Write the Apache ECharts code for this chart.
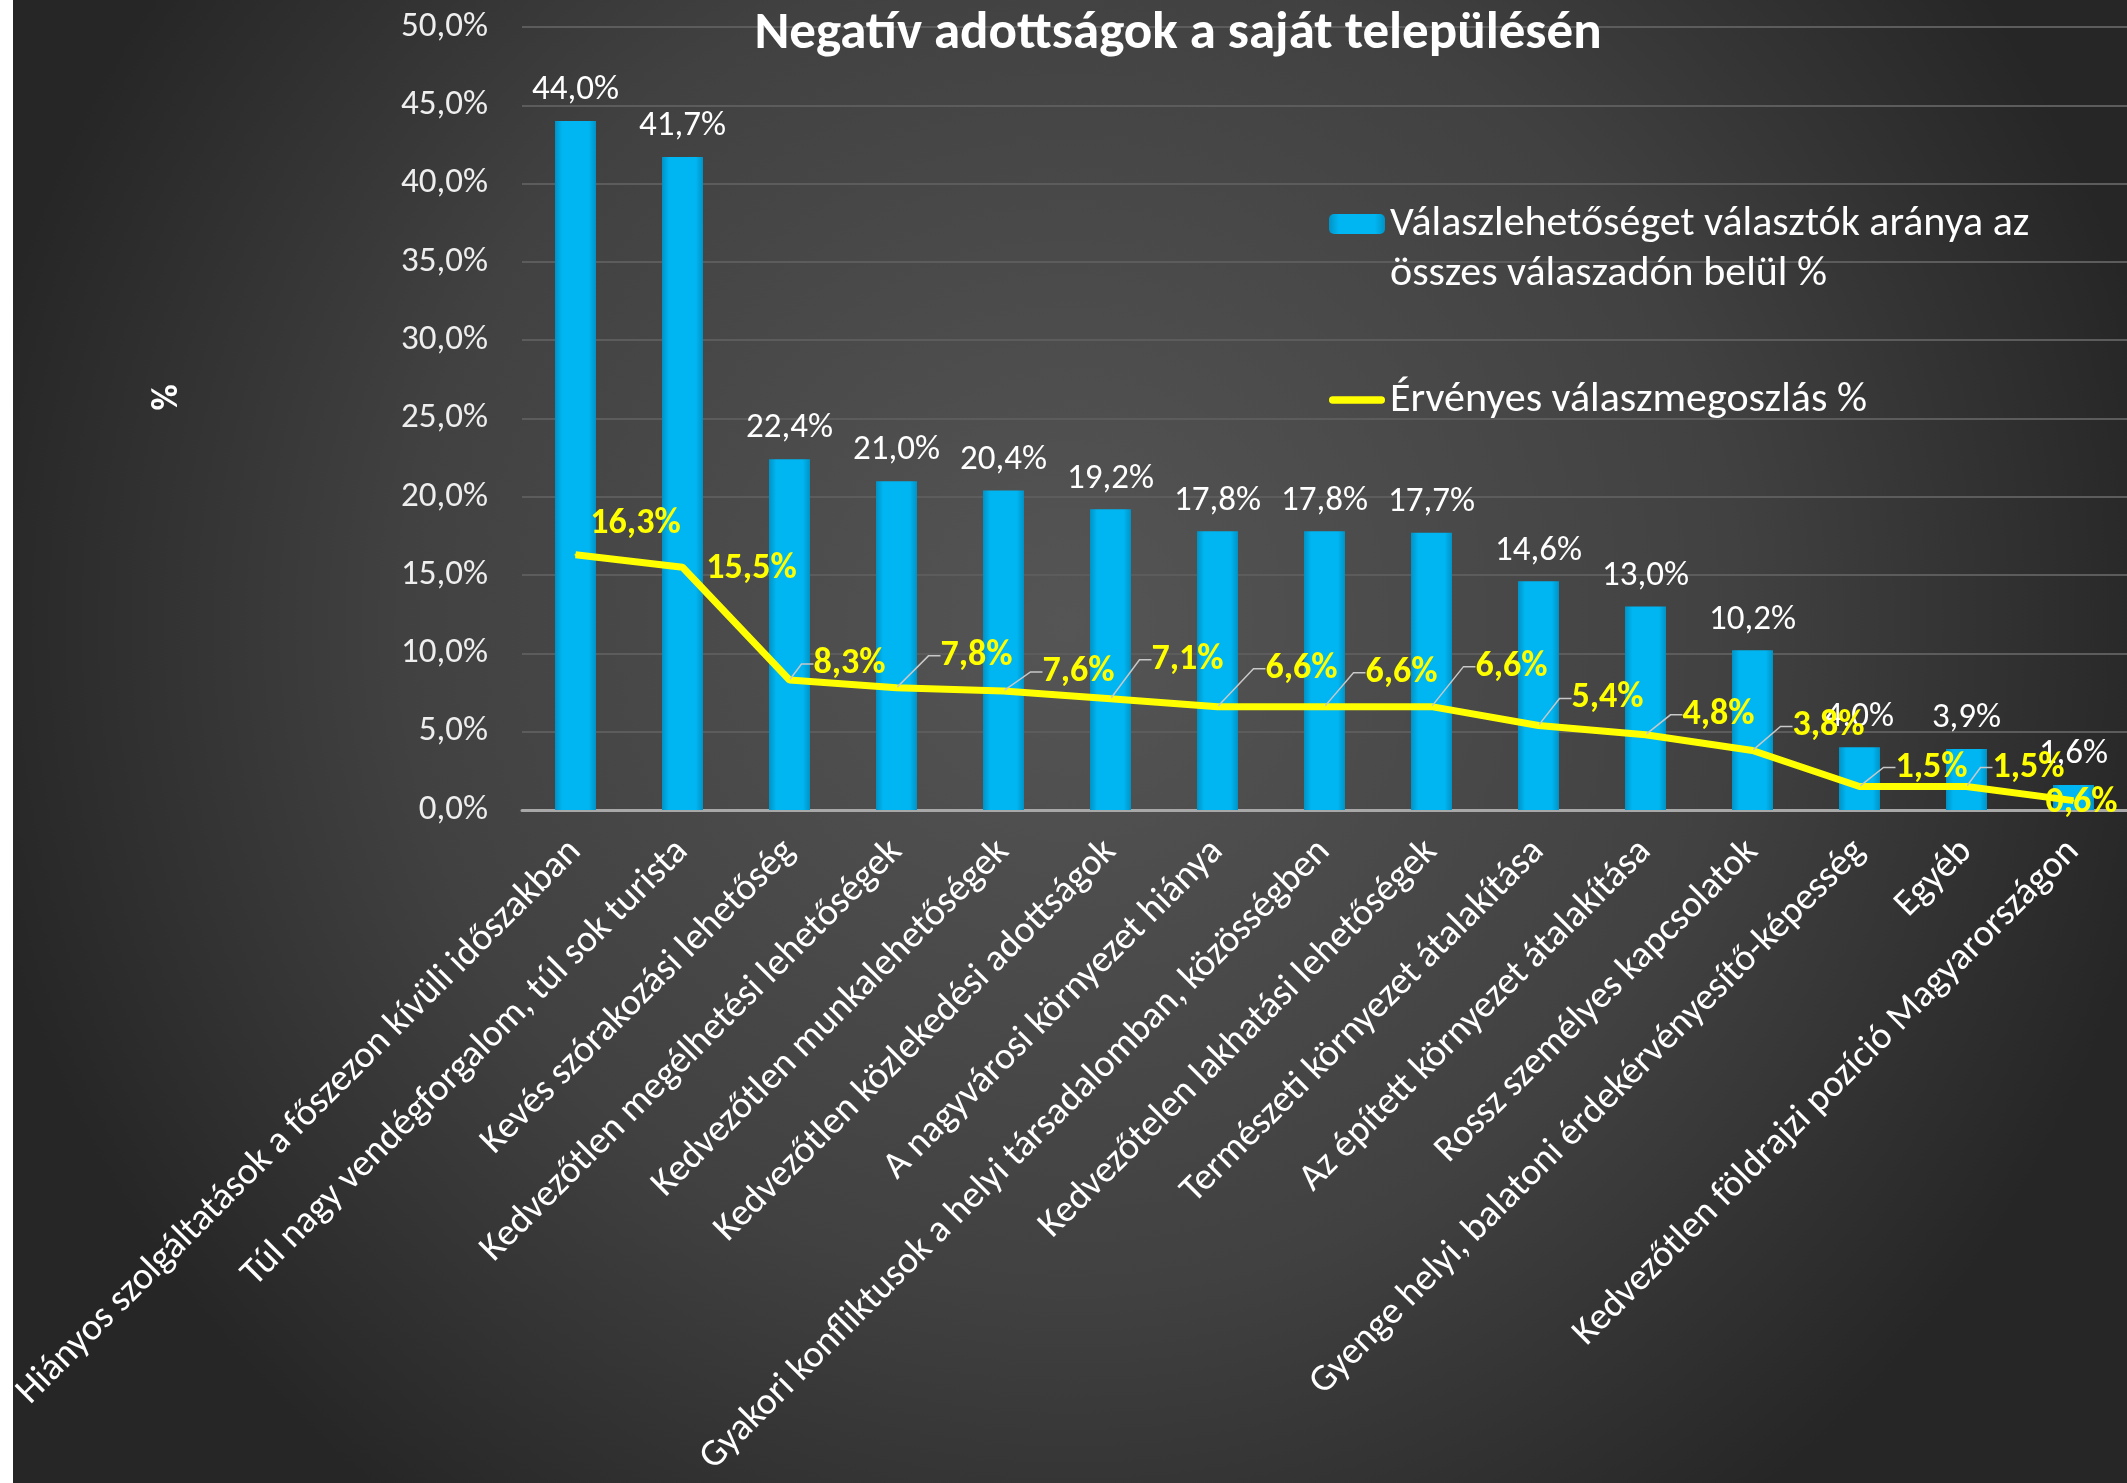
<!DOCTYPE html>
<html>
<head>
<meta charset="utf-8">
<script src="https://cdn.jsdelivr.net/npm/echarts@6/dist/echarts.min.js"></script>
<style>
  html, body { margin: 0; padding: 0; background: #ffffff; }
  #chart { position: absolute; left: 13px; top: 0; width: 2114px; height: 1483px; }
</style>
</head>
<body>
<div id="chart"></div>
<script>
// kategóriák
const categories = [
  'Hiányos szolgáltatások a főszezon kívüli időszakban',
  'Túl nagy vendégforgalom, túl sok turista',
  'Kevés szórakozási lehetőség',
  'Kedvezőtlen megélhetési lehetőségek',
  'Kedvezőtlen munkalehetőségek',
  'Kedvezőtlen közlekedési adottságok',
  'A nagyvárosi környezet hiánya',
  'Gyakori konfliktusok a helyi társadalomban, közösségben',
  'Kedvezőtelen lakhatási lehetőségek',
  'Természeti környezet átalakítása',
  'Az épített környezet átalakítása',
  'Rossz személyes kapcsolatok',
  'Gyenge helyi, balatoni érdekérvényesítő-képesség',
  'Egyéb',
  'Kedvezőtlen földrajzi pozíció Magyarországon'
];
// oszlopok
const barValues = [44.0, 41.7, 22.4, 21.0, 20.4, 19.2, 17.8, 17.8, 17.7, 14.6, 13.0, 10.2, 4.0, 3.9, 1.6];
// vonal
const lineValues = [16.3, 15.5, 8.3, 7.8, 7.6, 7.1, 6.6, 6.6, 6.6, 5.4, 4.8, 3.8, 1.5, 1.5, 0.6];

const barName = 'Válaszlehetőséget választók aránya az\nösszes válaszadón belül %';
const lineName = 'Érvényes válaszmegoszlás %';

// címke eltolások a vonal pontjaihoz képest (px)
const lineLabelShift = [
  [60, -30], [69, 3], [60, -15], [80, -31], [75, -18], [77, -38], [84, -37], [77, -33],
  [80, -39], [69, -26], [73, -19], [76, -23], [72, -18], [62, -18], [8, 3]
];

const FONT = 'Carlito, "Noto Sans", sans-serif';
const pct = v => v.toFixed(1).replace('.', ',') + '%';

const myChart = echarts.init(document.getElementById('chart'));

const option = {
  backgroundColor: {
    type: 'radial', x: 0.5, y: 0.42, r: 0.75,
    colorStops: [
      { offset: 0, color: '#555555' },
      { offset: 0.6, color: '#414141' },
      { offset: 1, color: '#262626' }
    ]
  },
  textStyle: { fontFamily: FONT },
  title: {
    text: 'Negatív adottságok a saját településén',
    left: 1160,
    textAlign: 'center',
    top: 3,
    textStyle: { color: '#ffffff', fontSize: 53, fontWeight: 'bold', fontFamily: FONT }
  },
  legend: {
    orient: 'vertical',
    left: 1311,
    top: 144,
    itemGap: 76,
    itemWidth: 56,
    itemHeight: 20,
    textStyle: { color: '#ffffff', fontSize: 42, lineHeight: 50, fontFamily: FONT },
    // üres első sor, hogy az ikon az első sorhoz igazodjon
    formatter: name => (name === barName ? '\n' + name : name),
    data: [
      { name: barName },
      {
        name: lineName,
        icon: 'path://M4,0 L56,0 A4,4 0 0 1 56,8 L4,8 A4,4 0 0 1 4,0 Z',
        itemStyle: { color: '#ffff00' }
      }
    ]
  },
  grid: { left: 509, right: 0, top: 27, bottom: 673, containLabel: false, outerBoundsMode: 'none' },
  xAxis: {
    type: 'category',
    data: categories,
    axisLine: { lineStyle: { color: '#a8a8a8', width: 3 } },
    axisTick: { show: false },
    axisLabel: {
      interval: 0,
      rotate: 45,
      margin: 36,
      color: '#ffffff',
      fontSize: 38,
      fontFamily: FONT
    }
  },
  yAxis: {
    type: 'value',
    min: 0,
    max: 50,
    interval: 5,
    name: '%',
    nameLocation: 'middle',
    nameRotate: 90,
    nameGap: 336,
    nameTextStyle: {
      color: '#ffffff', fontSize: 36, fontWeight: 'bold', fontFamily: FONT,
      padding: [0, 0, 0, 42]
    },
    axisLine: { show: false },
    axisTick: { show: false },
    axisLabel: { color: '#eeeeee', fontSize: 35, margin: 34, formatter: pct, fontFamily: FONT },
    splitLine: { lineStyle: { color: '#5c5c5c', width: 2 } }
  },
  series: [
    {
      name: barName,
      type: 'bar',
      data: barValues,
      barWidth: 41,
      itemStyle: {
        color: {
          type: 'linear', x: 0, y: 0, x2: 1, y2: 0,
          colorStops: [
            { offset: 0, color: '#0093c6' },
            { offset: 0.18, color: '#00b6f2' },
            { offset: 0.82, color: '#00b6f2' },
            { offset: 1, color: '#0093c6' }
          ]
        }
      },
      label: {
        show: true,
        position: 'top',
        distance: 13,
        color: '#ffffff',
        fontSize: 35,
        fontFamily: FONT,
        formatter: p => pct(p.value)
      },
      z: 2
    },
    {
      name: lineName,
      type: 'line',
      data: lineValues.map((v, i) => ({
        value: v,
        labelLine: { show: i > 1 && i < lineValues.length - 1 }
      })),
      symbol: 'circle',
      symbolSize: 2,
      lineStyle: { color: '#ffff00', width: 7 },
      itemStyle: { color: '#ffff00' },
      label: {
        show: true,
        position: 'top',
        distance: 0,
        color: '#ffff00',
        fontSize: 36,
        lineHeight: 42,
        fontWeight: 'bold',
        fontFamily: FONT,
        formatter: p => pct(p.value)
      },
      labelLine: {
        show: true,
        length2: 12,
        lineStyle: { color: '#c8c8c8', width: 1.5 }
      },
      labelLayout: p => {
        const s = lineLabelShift[p.dataIndex];
        return { dx: s[0], dy: s[1] + 21 };
      },
      z: 5
    }
  ]
};

myChart.setOption(option);
</script>
</body>
</html>
